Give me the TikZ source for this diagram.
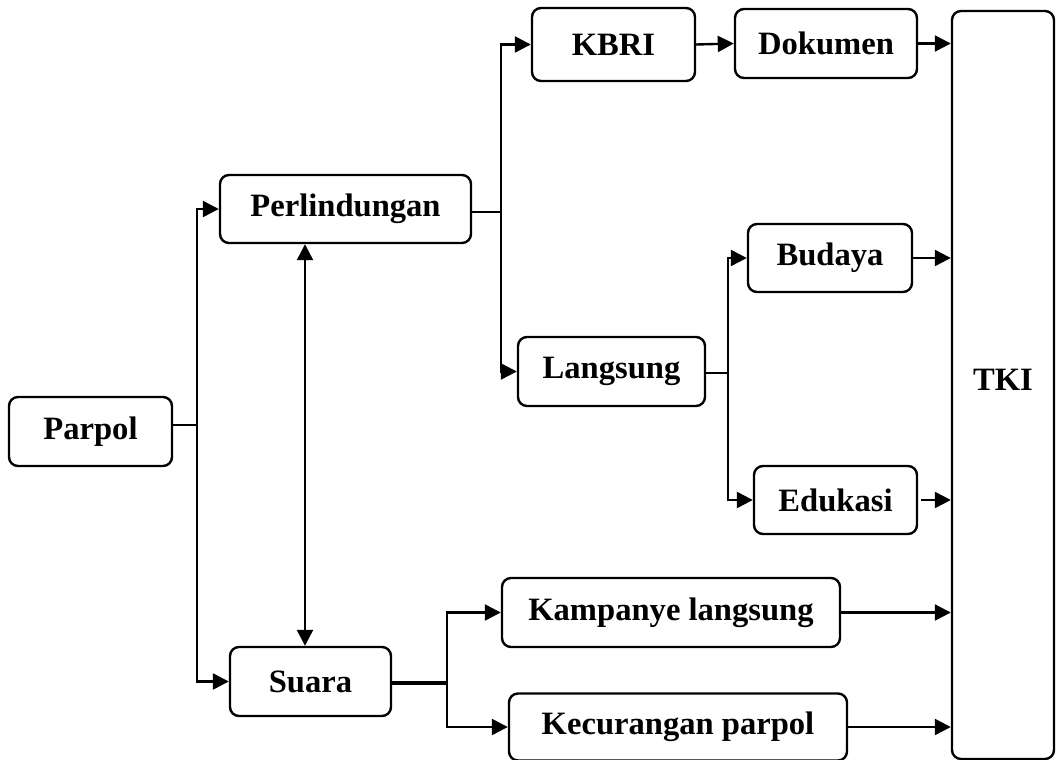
\documentclass[tikz,border=0pt]{standalone}
\usepackage{fontspec}
\setmainfont{Liberation Serif}
\usetikzlibrary{arrows.meta}
\begin{document}
\begin{tikzpicture}[x=0.5pt,y=-0.5pt,
  box/.style={draw, rounded corners=4.5pt, line width=1.2pt, inner sep=0pt,
    font=\bfseries\fontsize{16.3}{19}\selectfont, align=center},
  sz/.style 2 args={minimum width=#1*0.5pt, minimum height=#2*0.5pt},
  conn/.style={line width=1.2pt},
  arr/.style={line width=1.2pt, -{Triangle[length=8pt,width=8pt]}},
  darr/.style={line width=1.2pt, {Triangle[length=8pt,width=8pt]}-{Triangle[length=8pt,width=8pt]}}]
\useasboundingbox (0,0) rectangle (1057,760);
% nodes
\node[box, sz={163}{69}] (parpol) at (90.5,431.5) {Parpol};
\node[box, sz={251}{68}] (perl) at (345.5,209) {Perlindungan};
\node[box, sz={161}{69}] (suara) at (310.5,681.5) {Suara};
\node[box, sz={163}{73}] (kbri) at (613.5,44.5) {KBRI};
\node[box, sz={182}{69}] (dok) at (826,43.5) {Dokumen};
\node[box, sz={187}{69}] (lang) at (611.5,371.5) {Langsung};
\node[box, sz={164}{68}] (bud) at (830,258) {Budaya};
\node[box, sz={163}{68}] (edu) at (835.5,500) {Edukasi};
\node[box, sz={338}{69}] (kamp) at (671,612.5) {Kampanye langsung};
\node[box, sz={338}{67}] (kec) at (678,727) {Kecurangan parpol};
\node[box, sz={102}{748}] (tki) at (1003,385) {\raisebox{5pt}{TKI}};
% junctions
\coordinate (jP) at (197,425);
\coordinate (jL) at (501,212);
\coordinate (jB) at (728,373);
\coordinate (jK) at (447,683);
\coordinate (dx) at (305,0);
% connectors
\draw[conn] (parpol.east |- jP) -- (jP);
\draw[arr] (jP) |- (perl.west);
\draw[arr] (jP) |- (suara.west);
\draw[darr] (perl.south -| dx) -- (suara.north -| dx);
\draw[conn] (perl.east |- jL) -- (jL);
\draw[arr] (jL) |- (kbri.west);
\draw[arr] (jL) |- (lang.west);
\draw[arr] (kbri.east) -- (dok.west);
\draw[arr] (dok.east) -- (dok.east -| tki.west);
\draw[conn] (lang.east |- jB) -- (jB);
\draw[arr] (jB) |- (bud.west);
\draw[arr] (jB) |- (edu.west);
\draw[arr] (bud.east) -- (bud.east -| tki.west);
\draw[arr] ([xshift=1.5pt]edu.east) -- (edu.east -| tki.west);
\draw[line width=2.2pt] (suara.east |- jK) -- (jK);
\draw[arr] (jK) |- (kamp.west);
\draw[arr] (jK) |- (kec.west);
\draw[arr] (kamp.east) -- (kamp.east -| tki.west);
\draw[arr] (kec.east) -- (kec.east -| tki.west);
\end{tikzpicture}
\end{document}
